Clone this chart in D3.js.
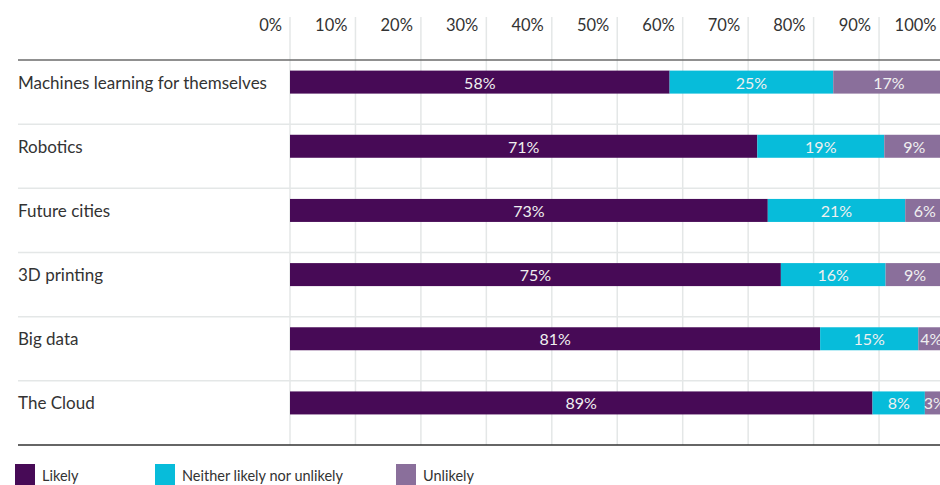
<!DOCTYPE html>
<html>
<head>
<meta charset="utf-8">
<script src="https://cdn.jsdelivr.net/npm/d3@7"></script>
<style>
    html, body { margin: 0; padding: 0; background: #ffffff; }
    #chart svg { display: block; }
    #chart text { font-family: Lato, "Open Sans", sans-serif; }
</style>
</head>
<body>
<div id="chart"></div>
<script>
const categories = [
    'Machines learning for themselves',
    'Robotics',
    'Future cities',
    '3D printing',
    'Big data',
    'The Cloud'
];
const likely = [58, 71.4, 73, 75, 81, 89];
const neither = [25, 19.4, 21, 16, 15, 8];
const unlikely = [17, 9.2, 6, 9, 4, 3];
const seriesNames = ['Likely', 'Neither likely nor unlikely', 'Unlikely'];
const seriesColors = ['#470a56', '#07bcda', '#8a6f9b'];
const tickValues = [0, 10, 20, 30, 40, 50, 60, 70, 80, 90, 100];

const width = 940;
const height = 485;
const left = 18;
const plotTop = 60;
const plotBottom = 445;

const rows = categories.map((c, i) => ({ category: c, Likely: likely[i], 'Neither likely nor unlikely': neither[i], Unlikely: unlikely[i] }));
const stacked = d3.stack().keys(seriesNames)(rows);

const x = d3.scaleLinear().domain([0, 100]).range([290, 944.5]);
const y = d3.scaleBand().domain(categories).range([plotTop, plotBottom]);
const color = d3.scaleOrdinal().domain(seriesNames).range(seriesColors);

const svg = d3.select('#chart').append('svg')
    .attr('width', width)
    .attr('height', height);

// vertical gridlines
svg.append('g').selectAll('line')
    .data(tickValues)
    .join('line')
    .attr('x1', (d) => x(d)).attr('x2', (d) => x(d))
    .attr('y1', 17).attr('y2', plotBottom)
    .attr('stroke', '#e4e7e7')
    .attr('stroke-width', 1.5);

// tick labels
svg.append('g').selectAll('text')
    .data(tickValues)
    .join('text')
    .attr('x', (d) => x(d) - 8)
    .attr('y', 25)
    .attr('text-anchor', 'end')
    .attr('dominant-baseline', 'central')
    .attr('font-size', 16.5)
    .attr('fill', '#333333')
    .text((d) => d + '%');

// row separators
svg.append('g').selectAll('line')
    .data(categories.slice(1))
    .join('line')
    .attr('x1', left).attr('x2', width)
    .attr('y1', (d) => y(d)).attr('y2', (d) => y(d))
    .attr('stroke', '#e4e7e7')
    .attr('stroke-width', 1.5);

svg.append('line')
    .attr('x1', left).attr('x2', width)
    .attr('y1', plotTop).attr('y2', plotTop)
    .attr('stroke', '#6b6b6b').attr('stroke-width', 1.5);

svg.append('line')
    .attr('x1', left).attr('x2', width)
    .attr('y1', plotBottom).attr('y2', plotBottom)
    .attr('stroke', '#333333').attr('stroke-width', 1.5);

const barOffset = 10.6;
const barH = 23;

// category labels
svg.append('g').selectAll('text')
    .data(categories)
    .join('text')
    .attr('x', left)
    .attr('y', (d) => y(d) + barOffset + barH / 2)
    .attr('dominant-baseline', 'central')
    .attr('font-size', 17)
    .attr('fill', '#333333')
    .text((d) => d);

// bars
const layer = svg.append('g').selectAll('g')
    .data(stacked)
    .join('g')
    .attr('fill', (s) => color(s.key));

layer.selectAll('rect')
    .data((s) => s)
    .join('rect')
    .attr('x', (d) => x(d[0]))
    .attr('width', (d) => x(d[1]) - x(d[0]))
    .attr('y', (d) => y(d.data.category) + barOffset)
    .attr('height', barH);

layer.selectAll('text')
    .data((s) => s)
    .join('text')
    .attr('x', (d) => (x(d[0]) + x(d[1])) / 2)
    .attr('y', (d) => y(d.data.category) + barOffset + barH / 2)
    .attr('text-anchor', 'middle')
    .attr('dominant-baseline', 'central')
    .attr('font-size', 16)
    .attr('fill', '#f0f0f0')
    .text((d) => Math.round(d[1] - d[0]) + '%');

// legend
const legendX = [15, 155, 396];
const legend = svg.append('g').selectAll('g')
    .data(seriesNames)
    .join('g')
    .attr('transform', (d, i) => `translate(${legendX[i]},464)`);
legend.append('rect')
    .attr('width', 20).attr('height', 21)
    .attr('fill', (d) => color(d));
legend.append('text')
    .attr('x', 27)
    .attr('y', 11.5)
    .attr('dominant-baseline', 'central')
    .attr('font-size', 14.5)
    .attr('fill', '#333333')
    .text((d) => d);
</script>
</body>
</html>
